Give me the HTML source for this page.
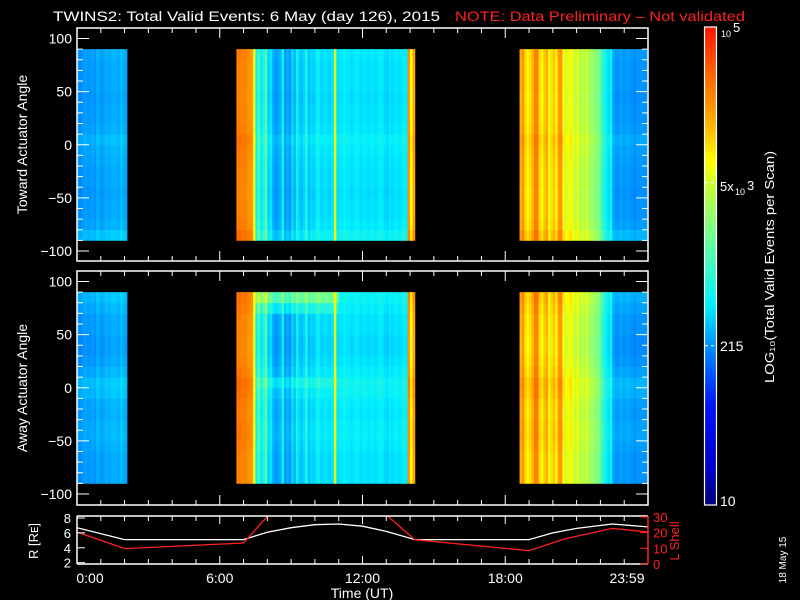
<!DOCTYPE html>
<html><head><meta charset="utf-8"><style>
html,body{margin:0;padding:0;background:#000;}
svg{display:block;font-family:"Liberation Sans",sans-serif;}
</style></head><body>
<svg id="chart" width="800" height="600" viewBox="0 0 800 600">
<rect x="0" y="0" width="800" height="600" fill="#000"/>
<text x="53" y="21" fill="#fff" font-size="14" textLength="387" lengthAdjust="spacingAndGlyphs">TWINS2: Total Valid Events:  6 May (day 126), 2015</text>
<text x="455" y="21" fill="#ff2020" font-size="14" textLength="290" lengthAdjust="spacingAndGlyphs">NOTE: Data Preliminary – Not validated</text>
<g id="heat"></g>
<g id="axes"></g>
<g id="cbar"></g>
<g id="orbit"></g>
</svg>
<script>
// ---- data ----
const block1Start = 0.0;
const block1Vals = [2.35,2.3,2.35,2.4,2.35,2.35,2.4,2.35,2.45,2.4,2.35,2.4,2.45,2.4,2.45,2.45,2.45,2.4,2.5,2.45,2.4];
const block2Start = 6.7;
const block2Vals = [4.45,4.5,4.4,4.45,4.4,4.35,4.3,3.8,
 2.75,3.05,2.65,2.85,3.1,2.55,2.65,2.45,2.35,2.4,2.45,2.75,2.35,2.45,2.35,2.6,2.45,2.75,2.55,2.5,2.6,2.85,2.5,2.6,2.55,2.65,2.75,2.6,2.6,2.65,2.6,2.6,2.65,
 3.8,
 2.6,2.65,2.65,2.7,2.65,2.65,2.6,2.65,2.7,2.65,2.6,2.65,2.65,2.6,2.65,2.65,2.6,2.65,2.7,2.65,2.6,2.55,2.65,2.6,2.65,2.65,2.6,2.65,2.7,2.65,
 4.35,3.85,4.25];
const block3Start = 18.6;
const block3Vals = [4.2,4.35,4.0,3.9,4.0,4.15,4.45,4.45,4.0,3.9,4.1,4.2,3.8,4.0,4.1,3.9,4.3,4.35,3.9,3.7,3.8,3.9,3.75,3.6,3.8,3.55,3.65,3.55,3.7,3.45,3.5,3.4,3.3,3.35,
 3.0,2.85,2.7,2.6,2.75,
 2.4,2.35,2.35,2.4,2.35,2.35,2.4,2.35,2.35,2.3,2.35,2.35,2.35,2.35,2.35];
const colStep = 0.1;
const angleBins = [-90,-80,-70,-60,-50,-40,-30,-20,-10,0,10,20,30,40,50,60,70,80];
const towardRowOffset = [0.12,0.03,0,0,-0.02,0,0,0.02,0.04,0.08,0.02,0,0,-0.02,0,0,0,0.02];
const awayRowOffset = [0,0,0,0.03,0.06,0.05,0.02,0.04,0.1,0.12,0.05,0,-0.03,-0.03,0,0,0.05,0.1];
const awayBandRows = [0,0,0,0,0,0,0,0,0,0.1,0,0,0,0,0,0,0.2,0.55];
const awayBandStart = 7.5, awayBandEnd = 11.0;

const rHours = [0,2,7,8,9,10,11,12,13,14.2,19,20,21,22.5,24];
const rValues = [6.7,5.1,5.1,6.1,6.7,7.1,7.2,6.9,6.2,5.1,5.1,6.0,6.6,7.2,6.8];
const lHours = [0,2,7,8.1,12.95,14.2,19,20.5,22.5,24];
const lValues = [20.4,9.8,13.4,32,32,15.5,8.5,16,22.7,20.4];

const xTickHours = [0,6,12,18,24];
const xTickLabels = ["0:00","6:00","12:00","18:00","23:59"];
const xTickShift = [13,0,0,0,-21];
const yTicks = [100,50,0,-50,-100];
const rTicks = [2,4,6,8];
const lTicks = [0,10,20,30];
const cbarTicks = [Math.log10(215), Math.log10(5000)];

// ---- colormap ----
const cmapStops = [[0,[0,0,120]],[0.08,[0,0,200]],[0.21,[0,20,255]],[0.33,[0,140,255]],[0.42,[0,240,255]],[0.56,[110,255,150]],[0.67,[200,255,50]],[0.72,[255,255,0]],[0.8,[255,175,0]],[0.89,[255,110,0]],[1,[255,20,0]]];
function cmap(f){f=Math.max(0,Math.min(1,f));
 for(let i=1;i<cmapStops.length;i++){const [f1,c1]=cmapStops[i];if(f<=f1){const [f0,c0]=cmapStops[i-1];const t=(f-f0)/(f1-f0);
  return `rgb(${c0.map((v,k)=>Math.round(v+(c1[k]-v)*t)).join(',')})`;}}
 return 'rgb(255,20,0)';}

// ---- scales ----
const X0=77, X1=648;
const xs = h => X0 + (X1-X0)*h/24;
const panels = [{top:28,bottom:261,name:'toward',title:'Toward Actuator Angle',off:towardRowOffset},
                {top:271,bottom:505,name:'away',title:'Away Actuator Angle',off:awayRowOffset}];
const ys = (p,a) => p.top + 10.5 + (100-a)*(212.5/200);
const cf = lv => (lv-1)/4;
const NS='http://www.w3.org/2000/svg';
function mk(tag,attrs,parent){const e=document.createElementNS(NS,tag);for(const k in attrs)e.setAttribute(k,attrs[k]);parent.appendChild(e);return e;}

const heat=document.getElementById('heat');
const blocks=[[block1Start,block1Vals],[block2Start,block2Vals],[block3Start,block3Vals]];
panels.forEach((p,pi)=>{
 blocks.forEach(([st,vals],bi)=>{
  vals.forEach((v,i)=>{
   const h=st+i*colStep;
   const x0=xs(h), x1=Math.min(X1-1,xs(h+colStep));
   angleBins.forEach((a,ri)=>{
    let lv=v+p.off[ri];
    if(pi===1 && h>=awayBandStart && h<awayBandEnd && v<3.2) lv+=awayBandRows[ri];
    const r=mk('rect',{x:x0.toFixed(2),y:ys(p,a+10).toFixed(2),width:(x1-x0+0.4).toFixed(2),height:(ys(p,a)-ys(p,a+10)+0.4).toFixed(2),fill:cmap(cf(lv))},heat);
    
    
   });
  });
 });
});

// ---- axes ----
const ax=document.getElementById('axes');
panels.forEach(p=>{
 const fr=mk('rect',{x:X0,y:p.top,width:X1-X0,height:p.bottom-p.top,fill:'none',stroke:'#fff','stroke-width':1.5},ax);
 
 
 for(let a=-100;a<=100;a+=10){
  const y=ys(p,a), len=(a%50===0)?12:6;
  mk('line',{x1:X0,x2:X0+len,y1:y,y2:y,stroke:'#fff'},ax);
  mk('line',{x1:X1,x2:X1-len,y1:y,y2:y,stroke:'#fff'},ax);
 }
 yTicks.forEach(a=>{
  const t=mk('text',{x:X0-5,y:ys(p,a)+5,fill:'#fff','font-size':14,'text-anchor':'end'},ax);
  t.textContent=(a<0?'−':'')+Math.abs(a);
  
  
 });
 for(let h=1;h<24;h++){
  const x=xs(h), len=(h%6===0)?10:5;
  mk('line',{x1:x,x2:x,y1:p.top,y2:p.top+len,stroke:'#fff'},ax);
  mk('line',{x1:x,x2:x,y1:p.bottom,y2:p.bottom-len,stroke:'#fff'},ax);
 }
 const yt=mk('text',{x:0,y:0,fill:'#fff','font-size':14,'text-anchor':'middle',transform:`translate(27,${(p.top+p.bottom)/2}) rotate(-90)`},ax);
 yt.textContent=p.title;
 
 
});

// ---- colorbar ----
const cb=document.getElementById('cbar');
const CB0=505, CB1=27;
const cby = lv => CB0-(CB0-CB1)*(lv-1)/4;
for(let i=0;i<200;i++){
 const lv=1+4*i/200;
 mk('rect',{x:705,y:cby(lv+0.02).toFixed(2),width:11,height:((CB0-CB1)/200+0.5).toFixed(2),fill:cmap(cf(lv+0.01))},cb);
}
mk('rect',{x:704.5,y:CB1,width:12,height:CB0-CB1,fill:'none',stroke:'#fff','stroke-width':1.2},cb);
cbarTicks.forEach(lv=>{mk('line',{x1:705,x2:716,y1:cby(lv),y2:cby(lv),stroke:'#fff','stroke-dasharray':'3,3'},cb);});
function cbt(x,y,s,fs,name){const t=mk('text',{x:x,y:y,fill:'#fff','font-size':fs},cb);t.textContent=s;return t;}
cbt(721,37,'10',9,'cbar-label-max');cbt(733,32,'5',13,'cbar-label-max-exp');
cbt(720,191,'5x',13,'cbar-label-5e3');cbt(735,195,'10',9,'cbar-label-5e3-base');cbt(747,190,'3',13,'cbar-label-5e3-exp');
cbt(720,351,'215',14,'cbar-label-215');
cbt(720,506,'10',14,'cbar-label-min');
const cbTitle=mk('text',{x:0,y:0,fill:'#fff','font-size':13,'text-anchor':'middle',textLength:232,lengthAdjust:'spacingAndGlyphs',transform:'translate(774,267) rotate(-90)'},cb);
cbTitle.textContent='LOG₁₀(Total Valid Events per Scan)';



// ---- orbit panel ----
const ob=document.getElementById('orbit');
const OT=516, OB=564;
const ry = r => 518+(8-r)*7.45;
const ly = l => 564-l*1.57;
const cp=mk('clipPath',{id:'oclip'},ob);mk('rect',{x:X0,y:OT,width:X1-X0,height:OB-OT},cp);
const rl=mk('polyline',{points:rHours.map((h,i)=>xs(h).toFixed(1)+','+ry(rValues[i]).toFixed(1)).join(' '),fill:'none',stroke:'#fff','stroke-width':1.3,'clip-path':'url(#oclip)'},ob);


const ll=mk('polyline',{points:lHours.map((h,i)=>xs(h).toFixed(1)+','+ly(lValues[i]).toFixed(1)).join(' '),fill:'none',stroke:'#ff2020','stroke-width':1.3,'clip-path':'url(#oclip)'},ob);


mk('line',{x1:X0,x2:X1,y1:OT,y2:OT,stroke:'#fff','stroke-width':1.5},ob);
mk('line',{x1:X0,x2:X1,y1:OB,y2:OB,stroke:'#fff','stroke-width':1.5},ob);
mk('line',{x1:X0,x2:X0,y1:OT,y2:OB,stroke:'#fff','stroke-width':1.5},ob);
mk('line',{x1:X1,x2:X1,y1:OT,y2:OB,stroke:'#ff2020','stroke-width':1.5},ob);
for(let h=1;h<24;h++){const x=xs(h),len=(h%6===0)?8:5;
 mk('line',{x1:x,x2:x,y1:OT,y2:OT+len,stroke:'#fff'},ob);mk('line',{x1:x,x2:x,y1:OB,y2:OB-len,stroke:'#fff'},ob);}
rTicks.forEach(r=>{mk('line',{x1:X0,x2:X0+8,y1:ry(r),y2:ry(r),stroke:'#fff'},ob);
 const t=mk('text',{x:X0-6,y:ry(r)+5,fill:'#fff','font-size':13,'text-anchor':'end'},ob);t.textContent=r;
 });
lTicks.forEach(l=>{mk('line',{x1:X1,x2:X1-8,y1:ly(l),y2:ly(l),stroke:'#ff2020'},ob);
 const t=mk('text',{x:X1+5,y:ly(l)+5,fill:'#ff2020','font-size':13},ob);t.textContent=l;
 });
xTickHours.forEach((h,i)=>{const t=mk('text',{x:xs(h)+xTickShift[i],y:583,fill:'#fff','font-size':14,'text-anchor':'middle'},ob);t.textContent=xTickLabels[i];
 });
const xt=mk('text',{x:362,y:598,fill:'#fff','font-size':14,'text-anchor':'middle'},ob);xt.textContent='Time (UT)';

const rt=mk('text',{x:0,y:0,fill:'#fff','font-size':13,'text-anchor':'middle',transform:'translate(38,541) rotate(-90)'},ob);rt.textContent='R [Rᴇ]';

const lt=mk('text',{x:0,y:0,fill:'#ff2020','font-size':13,'text-anchor':'middle',transform:'translate(679,541) rotate(-90)'},ob);lt.textContent='L Shell';

const dt=mk('text',{x:0,y:0,fill:'#fff','font-size':10,'text-anchor':'middle',transform:'translate(786,560) rotate(-90)'},ob);dt.textContent='18 May 15';

</script>
</body></html>
